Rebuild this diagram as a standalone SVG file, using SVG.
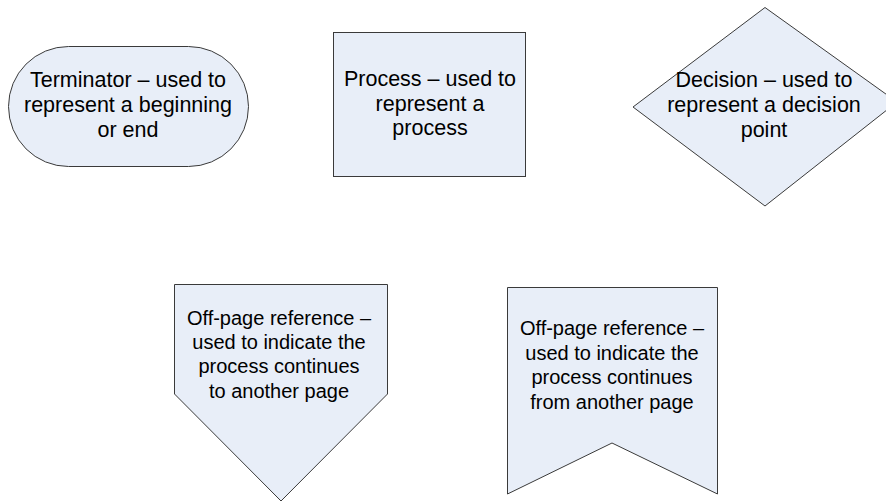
<svg xmlns="http://www.w3.org/2000/svg" width="886" height="501" viewBox="0 0 886 501">
<style>
.shape{fill:#e8eef8;stroke:#3a3a3a;stroke-width:1}
.t{font-family:"Liberation Sans",Arial,sans-serif;font-size:21.5px;fill:#000;text-anchor:middle}
.b{font-size:20px}
</style>
<rect width="886" height="501" fill="#ffffff"/>
<g id="terminator">
<rect class="shape" x="8.5" y="46.5" width="240" height="120" rx="60" ry="60"/>
<text class="t" x="128" y="87">Terminator – used to</text>
<text class="t" x="128" y="112">represent a beginning</text>
<text class="t" x="128" y="137">or end</text>
</g>
<g id="process">
<rect class="shape" x="333.5" y="32.5" width="192" height="144"/>
<text class="t" x="430" y="86">Process – used to</text>
<text class="t" x="430" y="111">represent a</text>
<text class="t" x="430" y="135">process</text>
</g>
<g id="decision">
<polygon class="shape" points="765,7.5 897,102 765,206 633,107"/>
<text class="t" x="764" y="87">Decision – used to</text>
<text class="t" x="764" y="112">represent a decision</text>
<text class="t" x="764" y="137">point</text>
</g>
<g id="offpage-to">
<polygon class="shape" points="174.5,284.5 387.5,284.5 387.5,394 281,501 174.5,394"/>
<text class="t b" x="279" y="325">Off-page reference –</text>
<text class="t b" x="279" y="349">used to indicate the</text>
<text class="t b" x="279" y="373">process continues</text>
<text class="t b" x="279" y="398">to another page</text>
</g>
<g id="offpage-from">
<polygon class="shape" points="507.5,287.5 717.5,287.5 717.5,494 612,443 507.5,494"/>
<text class="t b" x="612" y="335">Off-page reference –</text>
<text class="t b" x="612" y="360">used to indicate the</text>
<text class="t b" x="612" y="384">process continues</text>
<text class="t b" x="612" y="409">from another page</text>
</g>
<g id="connectors"></g>
</svg>
